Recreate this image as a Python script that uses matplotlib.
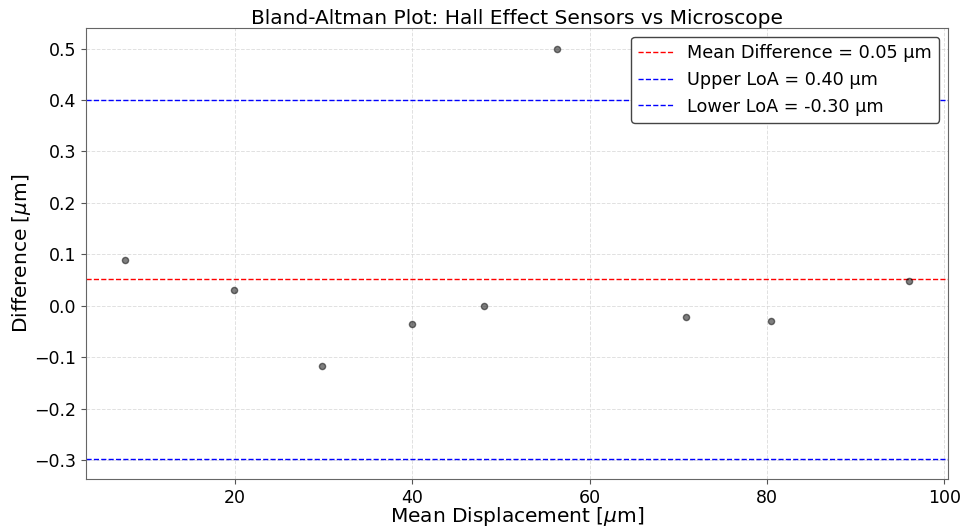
import numpy as np
import matplotlib
matplotlib.use("Agg")
import matplotlib.pyplot as plt

mean_disp = [7.6, 19.9, 29.8, 40.0, 48.1, 56.3, 70.9, 80.5, 96.0]
differences = [0.09, 0.03, -0.116, -0.035, 0.0, 0.5, -0.021, -0.029, 0.049]

d = np.array(differences)
md = d.mean()
sd = d.std(ddof=1)
upper = md + 1.96 * sd
lower = md - 1.96 * sd

fig = plt.figure(figsize=(9.62, 5.29), dpi=100)
ax = fig.add_axes([0.0894, 0.0945, 0.8961, 0.8525])
ax.scatter(mean_disp, differences, s=20, color='black', alpha=0.5, zorder=3)
ax.axhline(md, color='red', linestyle='--', linewidth=1, label=f'Mean Difference = {md:.2f} µm')
ax.axhline(upper, color='blue', linestyle='--', linewidth=1, label=f'Upper LoA = {upper:.2f} µm')
ax.axhline(lower, color='blue', linestyle='--', linewidth=1, label=f'Lower LoA = {lower:.2f} µm')
ax.set_title('Bland-Altman Plot: Hall Effect Sensors vs Microscope', fontsize=14.5, pad=3)
ax.set_xlabel(r'Mean Displacement [$\mu$m]', fontsize=14.5, labelpad=-1)
ax.set_ylabel(r'Difference [$\mu$m]', fontsize=14.5, labelpad=1)
ax.tick_params(labelsize=12.5, color='#555555')
ax.grid(True, linestyle='--', color='lightgray', alpha=0.7, linewidth=0.7)
for s in ax.spines.values():
    s.set_color('#666666')
ax.legend(fontsize=12.7, loc='upper right', edgecolor='#444444', framealpha=1)
fig.savefig('out.png', dpi=100)
